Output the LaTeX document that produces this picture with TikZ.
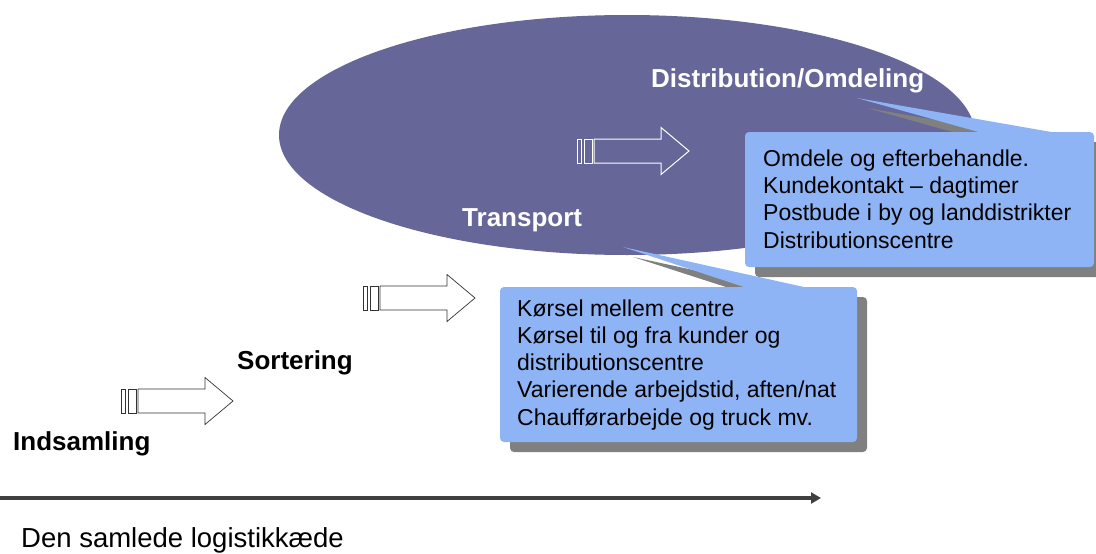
\documentclass[tikz,border=0pt]{standalone}
\usepackage{fontspec}
\setmainfont{Liberation Sans}
\usetikzlibrary{arrows.meta}
\definecolor{ellcol}{RGB}{102,102,153}
\definecolor{boxcol}{RGB}{142,180,245}
\definecolor{shadcol}{RGB}{128,128,128}
\definecolor{axcol}{RGB}{64,64,64}
\newcommand{\blockarr}[3]{%
  \draw[#3] (#1,#2-12) rectangle (#1+4,#2+12);
  \draw[#3] (#1+7,#2-12) rectangle (#1+15,#2+12);
  \draw[#3,line join=miter] (#1+17,#2-12) -- (#1+84,#2-12) -- (#1+84,#2-23.5) -- (#1+112,#2) -- (#1+84,#2+23.5) -- (#1+84,#2+12) -- (#1+17,#2+12) -- cycle;
}
\tikzset{
  lbl/.style={inner sep=0pt, anchor=base west, font=\fontsize{26}{30}\selectfont\bfseries},
  boxtxt/.style={inner sep=0pt, anchor=base west, align=left, font=\fontsize{23}{27.2}\selectfont},
  whitearr/.style={draw=white, line width=1pt},
  darkarr/.style={draw=black!80, fill=white, line width=0.7pt},
}
\begin{document}
\begin{tikzpicture}[x=1pt,y=-1pt]
\useasboundingbox (0,0) rectangle (1096,554);
\clip (0,0) rectangle (1096,554);
% ellipse
\fill[ellcol] (627,135) ellipse [x radius=348, y radius=120];
% block arrows
\blockarr{577}{151}{whitearr}
\blockarr{363}{298}{darkarr}
\blockarr{121}{401}{darkarr}
% labels
\node[lbl, text=white] (dist) at (651,87) {Distribution/Omdeling};
\node[lbl, text=white] (trans) at (462,226) {Transport};
\node[lbl] (sort) at (237,369) {Sortering};
\node[lbl] (inds) at (13,450) {Indsamling};
% callout 2 (transport)
\begin{scope}[shift={(10,10)}]
  \fill[shadcol] (623,247) -- (813,288) -- (750,288) -- cycle;
  \fill[shadcol, rounded corners=4] (500,287) rectangle (857,442);
\end{scope}
\fill[boxcol] (623,247) -- (813,289) -- (750,289) -- cycle;
\fill[boxcol, rounded corners=4] (500,287) rectangle (857,442);
\node[boxtxt] (t2) at (517,425) {Kørsel mellem centre\\Kørsel til og fra kunder og\\distributionscentre\\Varierende arbejdstid, aften/nat\\Chaufførarbejde og truck mv.};
% callout 1 (distribution)
\begin{scope}[shift={(10,10)}]
  \fill[shadcol] (857,98) -- (1057,133) -- (982,133) -- cycle;
  \fill[shadcol, rounded corners=4] (745,132) rectangle (1094,267);
\end{scope}
\fill[boxcol] (857,98) -- (1057,133) -- (982,133) -- cycle;
\fill[boxcol, rounded corners=4] (745,132) rectangle (1094,267);
\node[boxtxt] (t1) at (763,248) {Omdele og efterbehandle.\\Kundekontakt – dagtimer\\Postbude i by og landdistrikter\\Distributionscentre};
% axis
\coordinate (axs) at (0,498);
\coordinate (axe) at (821,498);
\draw[axcol, line width=4pt, -{Triangle[length=10pt,width=11pt]}] (axs) -- (axe);
\node[inner sep=0pt, anchor=base west, font=\fontsize{27.5}{32}\selectfont] (cap) at (21,547) {Den samlede logistikkæde};
\end{tikzpicture}
\end{document}
